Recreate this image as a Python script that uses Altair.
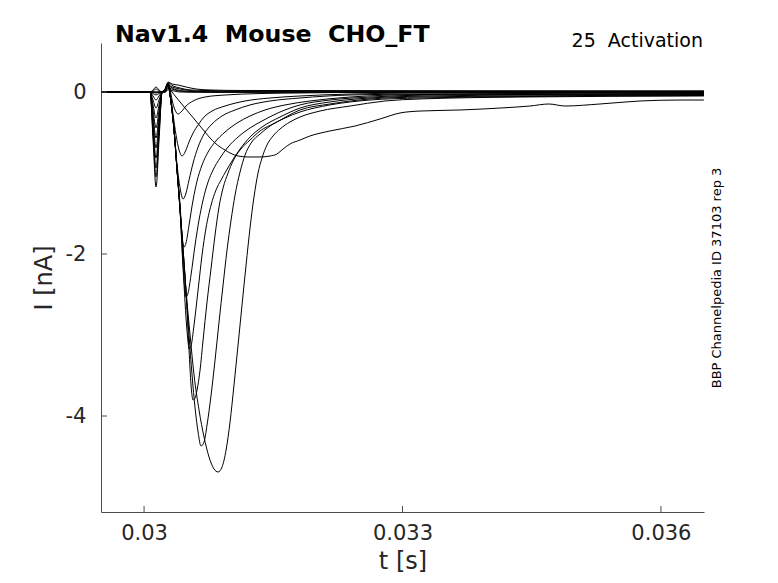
import altair as alt
import pandas as pd

# baseline before the steps, shared by every sweep
lead = [(0.0295, 0.0), (0.03007, 0.0)]

# sweeps with a large inward current (deepest first)
m1 = [(0.030104, -0.586), (0.030139, -1.173), (0.030174, -0.586), (0.030209, 0.0),
      (0.030244, 0.025), (0.030279, 0.111), (0.030302, -0.037), (0.030348, -0.469),
      (0.030383, -0.963), (0.030418, -1.457), (0.030453, -1.951), (0.030487, -2.444),
      (0.030534, -3.000), (0.030580, -3.494), (0.030638, -3.926), (0.030696, -4.259),
      (0.030754, -4.506), (0.030812, -4.654), (0.030859, -4.691), (0.030905, -4.630),
      (0.030952, -4.420), (0.030998, -4.074), (0.031044, -3.617), (0.031091, -3.123),
      (0.031137, -2.630), (0.031184, -2.136), (0.031230, -1.679), (0.031276, -1.296),
      (0.031323, -1.000), (0.031369, -0.815), (0.031427, -0.654), (0.031497, -0.543),
      (0.031578, -0.457), (0.031694, -0.370), (0.031810, -0.309), (0.032042, -0.235),
      (0.032391, -0.173), (0.032797, -0.111), (0.033203, -0.086), (0.034363, -0.062),
      (0.036499, -0.049)]

m2 = [(0.030104, -0.525), (0.030139, -1.049), (0.030174, -0.525), (0.030209, 0.0),
      (0.030244, 0.025), (0.030279, 0.111), (0.030302, -0.037), (0.030348, -0.469),
      (0.030383, -0.963), (0.030418, -1.457), (0.030453, -1.951), (0.030487, -2.469),
      (0.030522, -3.000), (0.030557, -3.494), (0.030592, -3.901), (0.030627, -4.198),
      (0.030661, -4.370), (0.030696, -4.321), (0.030731, -4.111), (0.030778, -3.741),
      (0.030824, -3.309), (0.030870, -2.840), (0.030917, -2.383), (0.030963, -1.951),
      (0.031010, -1.580), (0.031056, -1.272), (0.031114, -0.988), (0.031172, -0.778),
      (0.031242, -0.630), (0.031346, -0.519), (0.031462, -0.420), (0.031636, -0.321),
      (0.031810, -0.247), (0.032158, -0.160), (0.032623, -0.099), (0.033203, -0.074),
      (0.034363, -0.056), (0.036499, -0.043)]

m3 = [(0.030104, -0.469), (0.030139, -0.938), (0.030174, -0.469), (0.030209, 0.0),
      (0.030244, 0.025), (0.030279, 0.111), (0.030302, -0.037), (0.030348, -0.469),
      (0.030383, -0.963), (0.030418, -1.457), (0.030453, -1.951), (0.030487, -2.469),
      (0.030522, -3.185), (0.030545, -3.617), (0.030569, -3.802), (0.030592, -3.778),
      (0.030615, -3.679), (0.030650, -3.432), (0.030685, -3.062), (0.030731, -2.593),
      (0.030778, -2.173), (0.030824, -1.765), (0.030870, -1.420), (0.030917, -1.185),
      (0.030975, -1.000), (0.031033, -0.852), (0.031114, -0.716), (0.031230, -0.593),
      (0.031346, -0.481), (0.031520, -0.383), (0.031810, -0.222), (0.032158, -0.148),
      (0.032623, -0.086), (0.033203, -0.062), (0.034363, -0.049), (0.036499, -0.037)]

m4 = [(0.030104, -0.407), (0.030139, -0.815), (0.030174, -0.407), (0.030209, 0.0),
      (0.030244, 0.025), (0.030279, 0.111), (0.030302, -0.037), (0.030348, -0.469),
      (0.030383, -0.963), (0.030418, -1.457), (0.030441, -1.951), (0.030464, -2.383),
      (0.030487, -2.790), (0.030511, -3.086), (0.030522, -3.173), (0.030545, -3.136),
      (0.030580, -2.877), (0.030627, -2.444), (0.030673, -2.012), (0.030719, -1.679),
      (0.030778, -1.395), (0.030835, -1.210), (0.030894, -1.086), (0.030952, -0.975),
      (0.031021, -0.852), (0.031114, -0.704), (0.031230, -0.556), (0.031369, -0.432),
      (0.031578, -0.309), (0.031810, -0.198), (0.032158, -0.123), (0.032623, -0.074),
      (0.033319, -0.049), (0.034479, -0.037), (0.036499, -0.031)]

m5 = [(0.030104, -0.346), (0.030139, -0.691), (0.030174, -0.346), (0.030209, 0.0),
      (0.030244, 0.025), (0.030279, 0.111), (0.030302, -0.037), (0.030348, -0.469),
      (0.030383, -0.963), (0.030418, -1.457), (0.030441, -1.889), (0.030464, -2.321),
      (0.030487, -2.531), (0.030511, -2.481), (0.030545, -2.259), (0.030592, -1.889),
      (0.030638, -1.580), (0.030685, -1.333), (0.030743, -1.111), (0.030801, -0.963),
      (0.030882, -0.815), (0.030975, -0.679), (0.031091, -0.556), (0.031230, -0.444),
      (0.031369, -0.358), (0.031578, -0.247), (0.031810, -0.160), (0.032158, -0.099),
      (0.032623, -0.062), (0.033319, -0.037), (0.034363, -0.031), (0.036499, -0.025)]

m6 = [(0.030104, -0.284), (0.030139, -0.568), (0.030174, -0.284), (0.030209, 0.0),
      (0.030244, 0.025), (0.030279, 0.111), (0.030302, -0.037), (0.030348, -0.469),
      (0.030383, -0.963), (0.030418, -1.395), (0.030441, -1.765), (0.030464, -1.914),
      (0.030487, -1.864), (0.030522, -1.642), (0.030569, -1.333), (0.030615, -1.099),
      (0.030673, -0.901), (0.030743, -0.741), (0.030824, -0.617), (0.030940, -0.494),
      (0.031079, -0.383), (0.031230, -0.296), (0.031404, -0.222), (0.031636, -0.160),
      (0.031926, -0.111), (0.032391, -0.062), (0.033203, -0.031), (0.034363, -0.025),
      (0.036499, -0.019)]

m7 = [(0.030104, -0.222), (0.030139, -0.444), (0.030174, -0.222), (0.030209, 0.0),
      (0.030244, 0.025), (0.030279, 0.111), (0.030302, -0.037), (0.030348, -0.469),
      (0.030383, -0.901), (0.030418, -1.185), (0.030453, -1.321), (0.030487, -1.247),
      (0.030522, -1.086), (0.030569, -0.877), (0.030627, -0.679), (0.030696, -0.519),
      (0.030789, -0.395), (0.030905, -0.296), (0.031056, -0.222), (0.031230, -0.160),
      (0.031462, -0.111), (0.031810, -0.074), (0.032391, -0.037), (0.033203, -0.025),
      (0.036499, -0.012)]

m8 = [(0.030104, -0.160), (0.030139, -0.321), (0.030174, -0.160), (0.030209, 0.0),
      (0.030244, 0.025), (0.030279, 0.111), (0.030302, 0.0), (0.030337, -0.284),
      (0.030371, -0.531), (0.030406, -0.716), (0.030441, -0.790), (0.030476, -0.741),
      (0.030522, -0.617), (0.030569, -0.506), (0.030627, -0.407), (0.030696, -0.309),
      (0.030789, -0.235), (0.030940, -0.173), (0.031172, -0.111), (0.031462, -0.074),
      (0.031810, -0.049), (0.032391, -0.025), (0.033203, -0.012), (0.036499, 0.0)]

m9 = [(0.030104, -0.099), (0.030139, -0.198), (0.030174, -0.099), (0.030209, 0.0),
      (0.030244, 0.025), (0.030279, 0.099), (0.030302, 0.025), (0.030325, -0.099),
      (0.030360, -0.222), (0.030395, -0.272), (0.030429, -0.247), (0.030487, -0.173),
      (0.030569, -0.111), (0.030708, -0.062), (0.030940, -0.037), (0.031346, -0.019),
      (0.031810, -0.012), (0.032971, 0.0), (0.036499, 0.0)]

# slow sweep with the broad, late trough
slow = [(0.030104, -0.049), (0.030139, -0.099), (0.030174, -0.049), (0.030209, 0.0),
        (0.030244, 0.025), (0.030279, 0.074), (0.030325, 0.0), (0.030371, -0.062),
        (0.030418, -0.123), (0.030476, -0.198), (0.030534, -0.272), (0.030592, -0.346),
        (0.030650, -0.420), (0.030708, -0.494), (0.030766, -0.568), (0.030824, -0.630),
        (0.030882, -0.679), (0.030940, -0.716), (0.030998, -0.753), (0.031091, -0.790),
        (0.031207, -0.802), (0.031346, -0.802), (0.031462, -0.790), (0.031543, -0.765),
        (0.031613, -0.704), (0.031694, -0.642), (0.031810, -0.593), (0.031926, -0.543),
        (0.032158, -0.481), (0.032449, -0.420), (0.032739, -0.333), (0.032971, -0.259),
        (0.033203, -0.235), (0.033667, -0.222), (0.034131, -0.198), (0.034479, -0.173),
        (0.034700, -0.148), (0.034886, -0.173), (0.035292, -0.148), (0.035756, -0.111),
        (0.036220, -0.099), (0.036499, -0.099)]

# sweeps with almost no inward current
z1 = [(0.030104, 0.025), (0.030139, 0.062), (0.030174, 0.025), (0.030209, 0.0),
      (0.030244, 0.037), (0.030279, 0.123), (0.030325, 0.099), (0.030395, 0.086),
      (0.030487, 0.062), (0.030603, 0.037), (0.030766, 0.025), (0.031114, 0.019),
      (0.036499, 0.012)]
z2 = [(0.030104, 0.012), (0.030139, 0.037), (0.030174, 0.012), (0.030209, 0.0),
      (0.030244, 0.037), (0.030279, 0.111), (0.030337, 0.074), (0.030418, 0.049),
      (0.030534, 0.025), (0.030708, 0.019), (0.030998, 0.012), (0.036499, 0.012)]
z3 = [(0.030244, 0.0), (0.030279, 0.086), (0.030325, 0.062), (0.030418, 0.037),
      (0.030592, 0.012), (0.030882, 0.0), (0.036499, 0.0)]
z4 = [(0.030104, -0.019), (0.030139, -0.037), (0.030174, -0.019), (0.030209, 0.0),
      (0.030244, 0.012), (0.030279, 0.074), (0.030348, 0.037), (0.030476, 0.012),
      (0.030708, 0.0), (0.036499, 0.0)]
z5 = [(0.030139, -0.012), (0.030209, 0.0), (0.030244, 0.0), (0.030279, 0.049),
      (0.030360, 0.025), (0.030534, 0.0), (0.036499, -0.006)]
z6 = [(0.030244, 0.0), (0.030279, 0.025), (0.030418, 0.0), (0.036499, 0.006)]

sweeps = {"m1": m1, "m2": m2, "m3": m3, "m4": m4, "m5": m5, "m6": m6, "m7": m7,
          "m8": m8, "m9": m9, "slow": slow, "z1": z1, "z2": z2, "z3": z3,
          "z4": z4, "z5": z5, "z6": z6}

x_ticks = [0.03, 0.033, 0.036]
y_ticks = [-4, -2, 0]

rows = [{"sweep": name, "t": t, "i": i}
        for name, pts in sweeps.items() for t, i in lead + pts]
df = pd.DataFrame(rows)

W, H = 603, 469
AX = "#4d4d4d"
FONT = "DejaVu Sans"

x_scale = alt.Scale(domain=[0.0295, 0.0365], nice=False, zero=False)
y_scale = alt.Scale(domain=[-5.185, 0.605], nice=False, zero=False)

x_axis = alt.Axis(values=x_ticks, labelExpr="toString(datum.value)",
                  ticks=False, grid=False, title="t [s]",
                  labelPadding=10, titlePadding=6)
y_axis = alt.Axis(values=y_ticks, labelExpr="toString(datum.value)",
                  ticks=False, grid=False, title="I [nA]",
                  labelPadding=15, titlePadding=9)

lines = alt.Chart(df).mark_line(
    color="black", strokeWidth=1, interpolate="monotone", clip=True
).encode(
    x=alt.X("t:Q", scale=x_scale, axis=x_axis),
    y=alt.Y("i:Q", scale=y_scale, axis=y_axis),
    detail="sweep:N",
)

# MATLAB-style inward ticks
x_tick_marks = alt.Chart(pd.DataFrame({"t": x_ticks})).mark_rule(
    color=AX, strokeWidth=1
).encode(x=alt.X("t:Q", scale=x_scale, axis=x_axis), y=alt.value(H), y2=alt.value(H - 6))

y_tick_marks = alt.Chart(pd.DataFrame({"i": y_ticks})).mark_rule(
    color=AX, strokeWidth=1
).encode(y=alt.Y("i:Q", scale=y_scale, axis=y_axis), x=alt.value(0), x2=alt.value(6))

title_txt = alt.Chart(pd.DataFrame({"s": ["Nav1.4\u00a0 Mouse\u00a0 CHO_FT"]})).mark_text(
    align="left", baseline="alphabetic", font=FONT, fontSize=23.7, fontWeight="bold",
    color="black"
).encode(text="s:N", x=alt.value(14), y=alt.value(-1))

proto_txt = alt.Chart(pd.DataFrame({"s": ["25\u00a0 Activation"]})).mark_text(
    align="right", baseline="alphabetic", font=FONT, fontSize=19, color="black"
).encode(text="s:N", x=alt.value(602), y=alt.value(4))

side_txt = alt.Chart(pd.DataFrame({"s": ["BBP Channelpedia ID 37103 rep 3"]})).mark_text(
    align="center", baseline="middle", font=FONT, fontSize=13, angle=270, color="black"
).encode(text="s:N", x=alt.value(616), y=alt.value(235))

chart = alt.layer(
    lines, x_tick_marks, y_tick_marks, title_txt, proto_txt, side_txt
).properties(
    width=W, height=H,
    padding={"left": 93, "top": 35, "right": 62, "bottom": 70},
    autosize=alt.AutoSizeParams(type="none"),
    background="white",
).configure_view(stroke=None).configure_axis(
    domainColor=AX, domainWidth=1,
    labelFont=FONT, labelFontSize=21, labelColor="#262626",
    titleFont=FONT, titleFontSize=24, titleFontWeight="normal", titleColor="#262626",
)

chart.save("out.html", embed_options={"renderer": "svg", "actions": False})
